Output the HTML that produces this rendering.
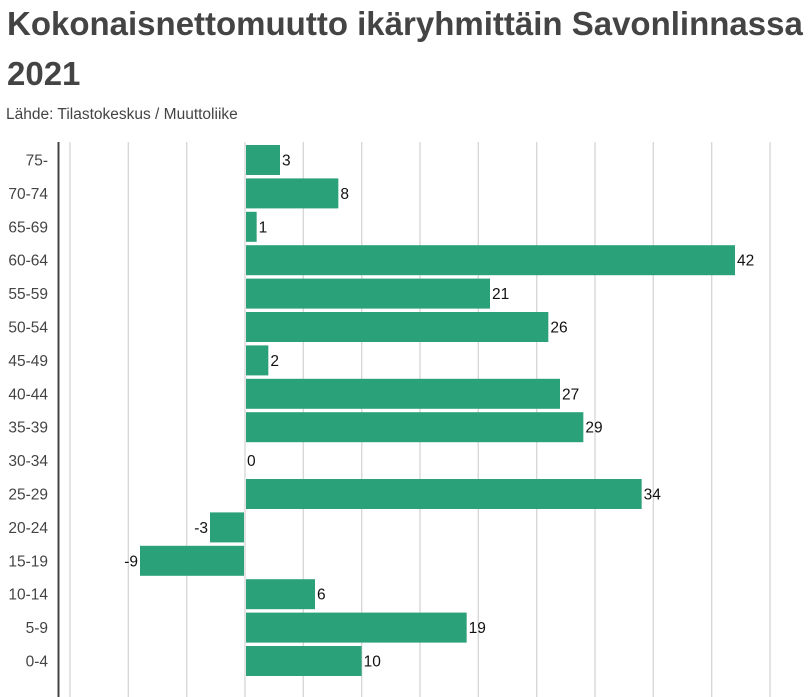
<!DOCTYPE html>
<html><head><meta charset="utf-8"><style>
body{margin:0;background:#fff;width:812px;height:697px;overflow:hidden;font-family:"Liberation Sans",sans-serif}
h1{position:absolute;left:7px;top:-1px;margin:0;font-size:33px;line-height:50px;font-weight:bold;color:#444;white-space:nowrap}
.sub{position:absolute;left:6px;top:106px;font-size:15.5px;color:#444}
</style></head><body>
<h1>Kokonaisnettomuutto ikäryhmittäin Savonlinnassa<br>2021</h1>
<div class="sub">Lähde: Tilastokeskus / Muuttoliike</div>
<svg width="812" height="697" style="position:absolute;left:0;top:0" font-family="Liberation Sans, sans-serif" font-size="15.5">
<g stroke="#d6d6d6" stroke-width="1.3">
<line x1="70" y1="142" x2="70" y2="697"/><line x1="128.3" y1="142" x2="128.3" y2="697"/><line x1="186.7" y1="142" x2="186.7" y2="697"/><line x1="245" y1="142" x2="245" y2="697"/><line x1="303.3" y1="142" x2="303.3" y2="697"/><line x1="361.7" y1="142" x2="361.7" y2="697"/><line x1="420" y1="142" x2="420" y2="697"/><line x1="478.3" y1="142" x2="478.3" y2="697"/><line x1="536.7" y1="142" x2="536.7" y2="697"/><line x1="595" y1="142" x2="595" y2="697"/><line x1="653.3" y1="142" x2="653.3" y2="697"/><line x1="711.7" y1="142" x2="711.7" y2="697"/><line x1="770" y1="142" x2="770" y2="697"/>
</g>
<line x1="58.5" y1="142" x2="58.5" y2="697" stroke="#444" stroke-width="2"/>
<g id="bars"></g>
</svg>
<script>
var L=["75-","70-74","65-69","60-64","55-59","50-54","45-49","40-44","35-39","30-34","25-29","20-24","15-19","10-14","5-9","0-4"];
var V=[3,8,1,42,21,26,2,27,29,0,34,-3,-9,6,19,10];
var g=document.getElementById("bars"),s="",k=490/42;
for(var i=0;i<16;i++){var c=160+i*33.4,v=V[i],w=Math.abs(v)*k,x=v<0?245-w:246;
if(v!=0)s+='<rect x="'+x+'" y="'+(c-15)+'" width="'+(w-1)+'" height="30" fill="#2ba179"/>';
s+='<text x="48" y="'+(c+5.5)+'" text-anchor="end" fill="#444">'+L[i]+'</text>';
if(v>=0)s+='<text x="'+(246+w+1)+'" y="'+(c+5.5)+'" fill="#111">'+v+'</text>';
else s+='<text x="'+(245-w-2)+'" y="'+(c+5.5)+'" text-anchor="end" fill="#111">'+v+'</text>';}
g.innerHTML=s;
</script>
</body></html>
